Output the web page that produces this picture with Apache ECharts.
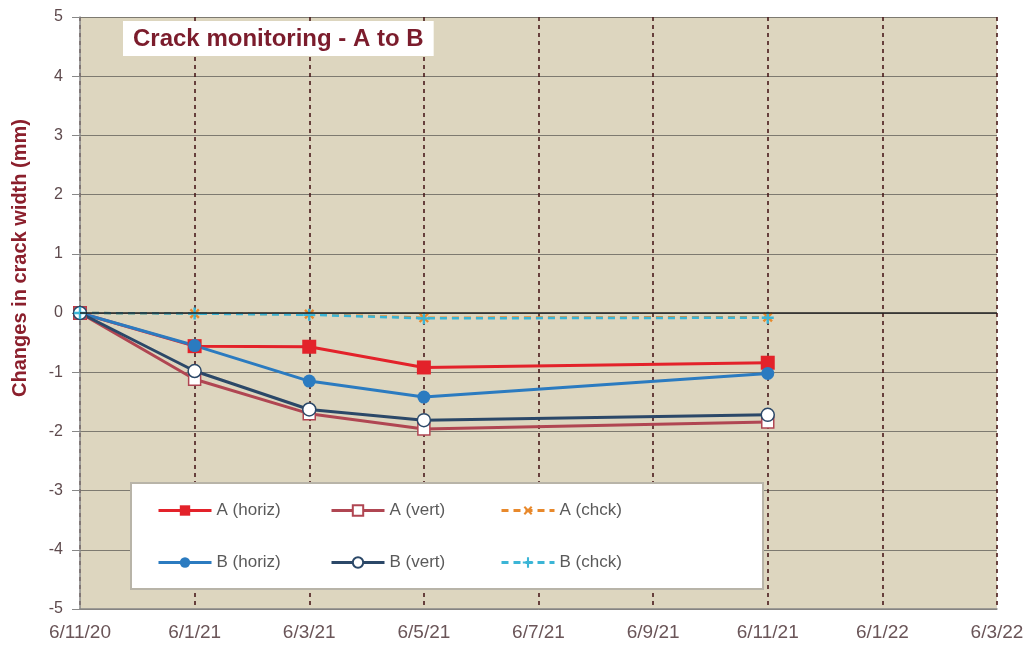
<!DOCTYPE html>
<html><head><meta charset="utf-8">
<script src="https://cdn.jsdelivr.net/npm/echarts@6/dist/echarts.min.js"></script>
<style>html,body{margin:0;padding:0;background:#fff}#c{width:1029px;height:649px}</style>
</head><body><div id="c"></div>
<script>
const categories = ['6/11/20','6/1/21','6/3/21','6/5/21','6/7/21','6/9/21','6/11/21','6/1/22','6/3/22'];
const yTicks = [-5,-4,-3,-2,-1,0,1,2,3,4,5];
const aHoriz = [0, -0.56, -0.57, -0.92, null, null, -0.84, null, null];
const aVert  = [0, -1.12, -1.70, -1.96, null, null, -1.84, null, null];
const aChck  = [0, -0.01, -0.02, -0.08, null, null, -0.07, null, null];
const bHoriz = [0, -0.55, -1.15, -1.42, null, null, -1.02, null, null];
const bVert  = [0, -0.98, -1.63, -1.81, null, null, -1.72, null, null];
const bChck  = [0, -0.01, -0.03, -0.09, null, null, -0.08, null, null];

const plus = 'path://M4,0h2v10h-2zM0,4h10v2h-10z';
const chart = echarts.init(document.getElementById('c'));
const font = 'Liberation Sans, Arial, sans-serif';
function mk(name, data, color, lw, symbol, size, fill, dashed, extra) {
  return Object.assign({
    name, type: 'line', data, connectNulls: true,
    symbol, symbolSize: size, showSymbol: true,
    lineStyle: { color, width: lw, type: dashed ? [7,5] : 'solid' },
    itemStyle: { color: fill, borderColor: color, borderWidth: fill === '#fff' ? 1.5 : 0 },
    emphasis: { disabled: true }, animation: false
  }, extra || {});
}
const series = [
  mk('A (horiz)', aHoriz, '#e3222a', 3, 'rect', 14, '#e3222a', false),
  mk('A (vert)', aVert, '#b04652', 3, 'rect', 12, '#fff', false),
  mk('A (chck)', aChck, '#e8892c', 2.5, plus, 12, '#e8892c', true, { symbolRotate: 45 }),
  mk('B (horiz)', bHoriz, '#2b7bc0', 3, 'circle', 13, '#2b7bc0', false),
  mk('B (vert)', bVert, '#2b4868', 3, 'circle', 13, '#fff', false),
  mk('B (chck)', bChck, '#3bb5d6', 2.5, plus, 12, '#3bb5d6', true)
];
series[0].markLine = { silent: true, symbol: 'none', label: { show: false },
  lineStyle: { color: '#222', width: 1.5, type: 'solid' }, data: [{ yAxis: 0 }], animation: false };

const legPos = [[157,502],[330,502],[500,502],[157,554],[330,554],[500,554]];
const legends = series.map((s, i) => ({
  data: [s.name], left: legPos[i][0], top: legPos[i][1], padding: 0,
  itemWidth: 53, itemHeight: 13, itemGap: 5, selectedMode: false, z: 5,
  lineStyle: { width: 3 },
  textStyle: { fontSize: 17, color: '#5a5a5a', fontFamily: font }
}));

chart.setOption({
  backgroundColor: '#fff',
  animation: false,
  title: {
    text: 'Crack monitoring - A to B', left: 123, top: 21,
    backgroundColor: '#fff', padding: [6, 10, 5, 10],
    textStyle: { color: '#7b1c2c', fontSize: 24, fontWeight: 'bold', fontFamily: font }
  },
  legend: legends,
  grid: { left: 80, right: 32, top: 17, bottom: 40, show: true,
    backgroundColor: '#ddd6bf', borderWidth: 0 },
  xAxis: {
    type: 'category', data: categories, boundaryGap: false,
    axisLine: { onZero: false, lineStyle: { color: '#888', width: 1.5 } },
    axisTick: { show: false },
    axisLabel: { color: '#6a5558', fontSize: 19, margin: 14, fontFamily: font, interval: 0 },
    splitLine: { show: true, lineStyle: { color: '#4a1c1c', width: 1.6, type: [4, 4] } }
  },
  yAxis: {
    type: 'value', min: yTicks[0], max: yTicks[yTicks.length - 1], interval: 1,
    axisLine: { show: true, lineStyle: { color: '#888', width: 1.5 } },
    axisTick: { show: true, length: 8, lineStyle: { color: '#888' } },
    axisLabel: { color: '#5e4a4d', fontSize: 16, margin: 17, fontFamily: font },
    splitLine: { show: true, lineStyle: { color: '#7d7a70', width: 1 } }
  },
  graphic: [
    { type: 'rect', left: 130, top: 482, z: 3, shape: { width: 632, height: 106 },
      style: { fill: '#fff', stroke: '#b8b4a8', lineWidth: 2 } },
    { type: 'text', x: 20, y: 258, rotation: Math.PI / 2, z: 5,
      style: { text: 'Changes in crack width (mm)', fill: '#8b1f2c', font: 'bold 20px ' + font,
        align: 'center', verticalAlign: 'middle' } }
  ],
  series
});
</script></body></html>
